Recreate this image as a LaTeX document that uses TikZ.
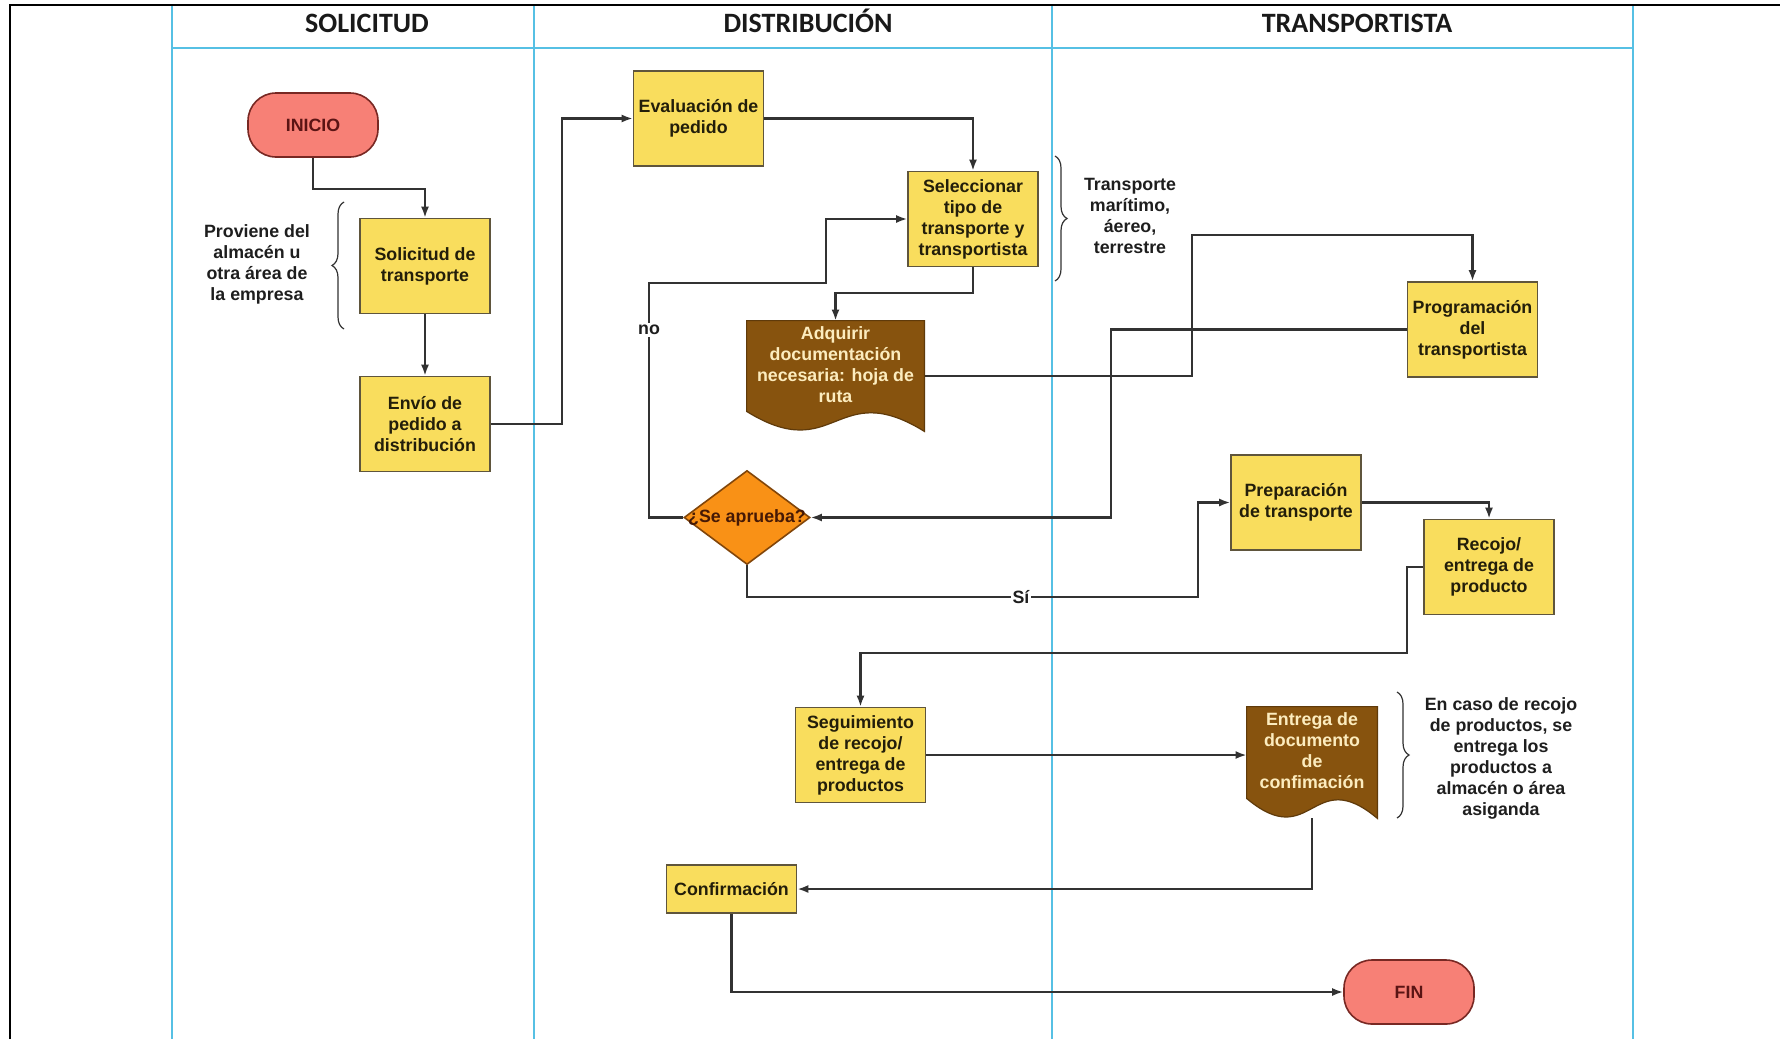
\documentclass[tikz,border=0pt]{standalone}
\usepackage{fontspec}
\setmainfont{Liberation Sans}
\newfontfamily\headfont{Carlito}
\usetikzlibrary{arrows.meta,shapes.geometric,decorations.pathreplacing,calc}

\pgfdeclarelayer{lanes}
\pgfdeclarelayer{edges}
\pgfdeclarelayer{docs}
\pgfsetlayers{lanes,edges,docs,main}

\definecolor{laneblue}{RGB}{86,192,228}
\definecolor{boxyellow}{RGB}{249,221,93}
\definecolor{boxline}{RGB}{95,85,60}
\definecolor{boxtext}{RGB}{35,30,10}
\definecolor{termfill}{RGB}{247,128,118}
\definecolor{termline}{RGB}{120,40,35}
\definecolor{termtext}{RGB}{90,20,20}
\definecolor{diafill}{RGB}{249,145,22}
\definecolor{dialine}{RGB}{130,70,10}
\definecolor{diatext}{RGB}{70,25,5}
\definecolor{docfill}{RGB}{135,83,14}
\definecolor{docline}{RGB}{95,58,10}
\definecolor{doctext}{RGB}{252,236,190}
\definecolor{edge}{RGB}{50,50,50}
\definecolor{notetext}{RGB}{30,30,30}
\definecolor{headtext}{RGB}{25,25,25}

% document symbol: flat top, wavy bottom, drawn around a named node
\newcommand\docoutline[1]{%
  \filldraw[fill=docfill, draw=docline, line width=0.6pt]
    (#1.north west) -- (#1.north east) -- (#1.south east)
    .. controls ($(#1.south)+(0,-55)$) and ($(#1.south)+(0,35)$) ..
    ($(#1.south west)+(0,-20)$) -- cycle;}

\begin{document}
\begin{tikzpicture}[x=0.5pt,y=-0.5pt,
  txt/.style={font=\bfseries\fontsize{8.9}{10.5}\selectfont, align=center},
  proc/.style={txt, draw=boxline, fill=boxyellow, line width=0.8pt,
    minimum width=65pt, minimum height=47.5pt, inner sep=0pt, text=boxtext},
  term/.style={txt, draw=termline, fill=termfill, line width=0.8pt,
    rounded corners=14pt, minimum width=65pt, minimum height=32pt,
    inner sep=0pt, text=termtext},
  decision/.style={diamond, draw=dialine, fill=diafill, line width=0.8pt,
    minimum width=63pt, minimum height=47pt, inner sep=0pt},
  docarea/.style={inner sep=0pt},
  note/.style={txt, text=notetext},
  flow/.style={draw=edge, line width=1.05pt, -{Latex[length=5.5pt,width=4pt]}},
  lane/.style={draw=laneblue, line width=1pt},
  curly/.style={draw=edge, line width=0.6pt, decorate,
    decoration={brace, amplitude=6pt}},
  tag/.style={txt, fill=white, inner sep=1pt, text=notetext},
  headtxt/.style={font=\headfont\bfseries\fontsize{14}{16}\selectfont,
    text=headtext, anchor=base}
]
\useasboundingbox (0,0) rectangle (1780,1039);

% page background and swimlanes
\begin{pgfonlayer}{lanes}
  \fill[white] (0,0) rectangle (1780,1039);
  \draw[lane] (172,5) -- (172,1039);
  \draw[lane] (534,5) -- (534,1039);
  \draw[lane] (1052,5) -- (1052,1039);
  \draw[lane] (1633,5) -- (1633,1039);
  \draw[lane] (172,48) -- (1633,48);
  \draw[black, line width=1.3pt] (10,1039) -- (10,5) -- (1780,5);
\end{pgfonlayer}

\node[headtxt] (hsol) at (367,32) {SOLICITUD};
\node[headtxt] (hdis) at (808,32) {DISTRIBUCIÓN};
\node[headtxt] (htra) at (1357,32) {TRANSPORTISTA};

% flow elements
\node[term] (inicio) at (313,125) {INICIO};
\node[proc] (sol) at (425,266) {Solicitud de\\transporte};
\node[proc] (env) at (425,424) {Envío de\\pedido a\\distribución};
\node[proc] (eval) at (698.5,118.5) {Evaluación de\\pedido};
\node[proc] (sel) at (973,219) {Seleccionar\\tipo de\\transporte y\\transportista};
\node[docarea, minimum width=88.5pt, minimum height=55pt,
  label={[txt, text=doctext, yshift=5.5pt]center:Adquirir\\documentación\\necesaria: hoja de\\ruta}]
  (adq) at (835.5,376) {};
\node[proc] (prog) at (1472.5,329.5) {Programación\\del\\transportista};
\node[decision, label={[txt, text=diatext]center:¿Se aprueba?}] (dia) at (747,517.5) {};
\node[proc] (prep) at (1296,502.5) {Preparación\\de transporte};
\node[proc] (rec) at (1489,567) {Recojo/\\entrega de\\producto};
\node[proc] (seg) at (860.5,755) {Seguimiento\\de recojo/\\entrega de\\productos};
\node[docarea, minimum width=65pt, minimum height=55.5pt,
  label={[txt, text=doctext, yshift=6pt]center:Entrega de\\documento\\de\\confimación}]
  (ent) at (1312,762.5) {};
\node[proc, minimum height=24pt] (conf) at (731.5,889) {Confirmación};
\node[term] (fin) at (1409,992) {FIN};

\begin{pgfonlayer}{docs}
  \docoutline{adq}
  \docoutline{ent}
\end{pgfonlayer}

% side notes with braces
\node[note] (n1) at (257,264) {Proviene del\\almacén u\\otra área de\\la empresa};
\node[note] (n2) at (1130,216) {Transporte\\marítimo,\\áereo,\\terrestre};
\node[note] (n3) at (1501,758) {En caso de recojo\\de productos, se\\entrega los\\productos a\\almacén o área\\asiganda};
\draw[curly] (344,329) -- (344,202);
\draw[curly] (1055,156) -- (1055,281);
\draw[curly] (1397,692) -- (1397,818);

% connectors
\begin{pgfonlayer}{edges}
  \draw[flow] (inicio.south) -- ++(0,31) -| (sol.north);
  \draw[flow] (sol.south) -- (env.north);
  \draw[flow] (env.east) -- ++(71,0) |- (eval.west);
  \draw[flow] (eval.east) -| (sel.north);
  \draw[flow] (sel.south) -- ++(0,26) -| (adq.north);
  \draw[flow] (adq.east) -| (1192,235) -| (prog.north);
  \draw[flow] (prog.west) -| (1111,517.5) -- (dia.east);
  \draw[flow] (dia.west) -| (649,283) -| (826,219) -- (sel.west);
  \draw[flow] (dia.south) |- (1198,597) |- (prep.west);
  \draw[flow] (prep.east) -| (rec.north);
  \draw[flow] (rec.west) -| (1407,653) -| (seg.north);
  \draw[flow] (seg.east) -- (seg.east -| ent.west);
  \draw[flow] (ent.south) |- (conf.east);
  \draw[flow] (conf.south) |- (fin.west);
\end{pgfonlayer}

\node[tag] (lno) at (649,330) {no};
\node[tag] (lsi) at (1021,597) {Sí};

\end{tikzpicture}
\end{document}
